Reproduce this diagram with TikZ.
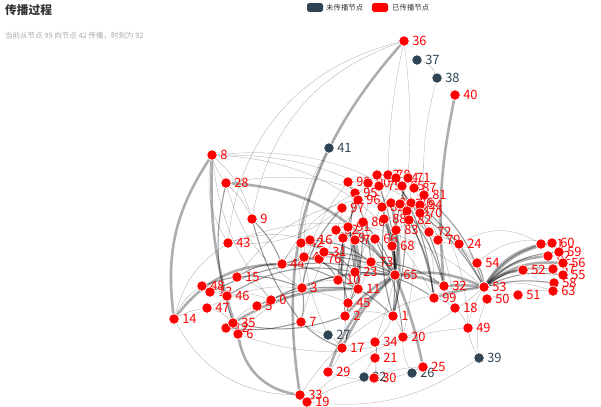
\documentclass[tikz,border=0pt]{standalone}
\usepackage{fontspec}
\setmainfont{Noto Sans CJK SC}
\usetikzlibrary{backgrounds}
\definecolor{hotred}{HTML}{FF0000}
\definecolor{coldgray}{HTML}{2F4554}
\definecolor{titlegray}{HTML}{333333}
\definecolor{subgray}{HTML}{AAAAAA}
\begin{document}
\begin{tikzpicture}[x=0.03cm, y=-0.03cm]
    \tikzset{
      dot/.style={circle, draw=white, line width=0.5pt, minimum size=0.31cm, inner sep=0pt},
      lbl/.style={font=\fontsize{11}{12}\selectfont, inner sep=0.5pt, label distance=0.6mm},
      hot/.style={dot, fill=hotred, label={[lbl, text=hotred]right:#1}},
      cold/.style={dot, fill=coldgray, label={[lbl, text=coldgray]right:#1}},
      edgethin/.style={draw=black, opacity=0.35, line width=0.25pt},
      edgemid/.style={draw=black, opacity=0.4, line width=0.9pt},
      edgethick/.style={draw=black, opacity=0.32, line width=2.2pt},
      legbox/.style={rounded corners=1.5pt, minimum width=0.48cm, minimum height=0.26cm, inner sep=0pt},
      legtxt/.style={anchor=west, font=\fontsize{6.3}{7}\selectfont, text=titlegray, inner sep=0pt},
    }
    \useasboundingbox (0,0) rectangle (601,406);

    % title and legend
    \node[anchor=west, inner sep=0pt, font=\bfseries\fontsize{10}{12}\selectfont, text=titlegray] (title) at (5,10) {传播过程};
    \node[anchor=west, inner sep=0pt, font=\fontsize{6.4}{8}\selectfont, text=subgray] (subtitle) at (5,36) {当前从节点 99 向节点 42 传播，时刻为 92};
    \node[legbox, fill=coldgray] (legcold) at (315,7.5) {};
    \node[legtxt] (legcoldtxt) at (326,7.5) {未传播节点};
    \node[legbox, fill=hotred] (leghot) at (380,7.5) {};
    \node[legtxt] (leghottxt) at (392,7.5) {已传播节点};

    % nodes not yet reached
    \node[cold=37] (n37) at (417,60) {};
    \node[cold=38] (n38) at (437,78) {};
    \node[cold=41] (n41) at (329,148) {};
    \node[cold=27] (n27) at (328,335) {};
    \node[cold=22] (n22) at (364,377) {};
    \node[cold=26] (n26) at (412,373) {};
    \node[cold=39] (n39) at (479,358) {};

    % reached nodes, left and middle
    \node[hot=36] (n36) at (404,41) {};
    \node[hot=40] (n40) at (455,95) {};
    \node[hot=8] (n8) at (212,155) {};
    \node[hot=28] (n28) at (226,183) {};
    \node[hot=9] (n9) at (252,219) {};
    \node[hot=43] (n43) at (228,243) {};
    \node[hot=44] (n44) at (282,264) {};
    \node[hot=4] (n4) at (304,257) {};
    \node[hot=76] (n76) at (319,259) {};
    \node[hot=31] (n31) at (324,252) {};
    \node[hot=42] (n42) at (301,243) {};
    \node[hot=16] (n16) at (310,240) {};
    \node[hot=15] (n15) at (237,277) {};
    \node[hot=48] (n48) at (202,286) {};
    \node[hot=13] (n13) at (210,292) {};
    \node[hot=46] (n46) at (227,296) {};
    \node[hot=3] (n3) at (302,288) {};
    \node[hot=0] (n0) at (271,300) {};
    \node[hot=5] (n5) at (257,306) {};
    \node[hot=47] (n47) at (207,308) {};
    \node[hot=14] (n14) at (174,319) {};
    \node[hot=12] (n12) at (226,328) {};
    \node[hot=6] (n6) at (238,334) {};
    \node[hot=35] (n35) at (233,323) {};
    \node[hot=7] (n7) at (301,322) {};
    \node[hot=73] (n73) at (371,262) {};
    \node[hot=23] (n23) at (355,272) {};
    \node[hot=65] (n65) at (395,275) {};
    \node[hot=10] (n10) at (338,280) {};
    \node[hot=11] (n11) at (358,289) {};
    \node[hot=45] (n45) at (348,303) {};
    \node[hot=2] (n2) at (345,316) {};
    \node[hot=1] (n1) at (393,316) {};
    \node[hot=17] (n17) at (342,348) {};
    \node[hot=34] (n34) at (375,342) {};
    \node[hot=20] (n20) at (403,337) {};
    \node[hot=21] (n21) at (375,358) {};
    \node[hot=29] (n29) at (328,372) {};
    \node[hot=30] (n30) at (374,378) {};
    \node[hot=25] (n25) at (423,367) {};
    \node[hot=33] (n33) at (300,395) {};
    \node[hot=19] (n19) at (307,402) {};

    % reached nodes, right
    \node[hot=49] (n49) at (468,328) {};
    \node[hot=18] (n18) at (455,308) {};
    \node[hot=99] (n99) at (434,298) {};
    \node[hot=32] (n32) at (444,286) {};
    \node[hot=54] (n54) at (477,263) {};
    \node[hot=53] (n53) at (484,287) {};
    \node[hot=50] (n50) at (487,299) {};
    \node[hot=51] (n51) at (518,295) {};
    \node[hot=52] (n52) at (523,270) {};
    \node[hot=72] (n72) at (429,232) {};
    \node[hot=79] (n79) at (438,240) {};
    \node[hot=24] (n24) at (459,244) {};
    \node[hot=61] (n61) at (541,244) {};
    \node[hot=60] (n60) at (552,243) {};
    \node[hot=62] (n62) at (548,256) {};
    \node[hot=59] (n59) at (559,252) {};
    \node[hot=57] (n57) at (553,269) {};
    \node[hot=56] (n56) at (563,263) {};
    \node[hot=55] (n55) at (563,275) {};
    \node[hot=58] (n58) at (554,283) {};
    \node[hot=63] (n63) at (553,291) {};

    % reached nodes, top cluster
    \node[hot=98] (n98) at (348,182) {};
    \node[hot=90] (n90) at (368,183) {};
    \node[hot=93] (n93) at (377,175) {};
    \node[hot=78] (n78) at (388,175) {};
    \node[hot=74] (n74) at (396,178) {};
    \node[hot=71] (n71) at (408,178) {};
    \node[hot=75] (n75) at (379,186) {};
    \node[hot=85] (n85) at (402,186) {};
    \node[hot=87] (n87) at (414,188) {};
    \node[hot=95] (n95) at (355,193) {};
    \node[hot=81] (n81) at (424,195) {};
    \node[hot=96] (n96) at (358,200) {};
    \node[hot=97] (n97) at (342,208) {};
    \node[hot=89] (n89) at (382,207) {};
    \node[hot=84] (n84) at (391,203) {};
    \node[hot=67] (n67) at (400,204) {};
    \node[hot=86] (n86) at (411,203) {};
    \node[hot=94] (n94) at (420,205) {};
    \node[hot=64] (n64) at (407,211) {};
    \node[hot=70] (n70) at (420,213) {};
    \node[hot=82] (n82) at (409,220) {};
    \node[hot=88] (n88) at (384,219) {};
    \node[hot=80] (n80) at (363,222) {};
    \node[hot=83] (n83) at (396,230) {};
    \node[hot=92] (n92) at (336,230) {};
    \node[hot=91] (n91) at (348,227) {};
    \node[hot=69] (n69) at (343,238) {};
    \node[hot=77] (n77) at (355,240) {};
    \node[hot=66] (n66) at (375,239) {};
    \node[hot=68] (n68) at (392,246) {};

    \begin{scope}[on background layer]
      \foreach \a/\b/\d in {37/38/25, 38/81/-8, 36/78/-5, 36/71/5, 36/9/-30, 36/43/-35, 41/3/-20, 41/27/-25,
          8/28/-10, 8/9/15, 8/72/20, 8/24/25, 8/43/-20, 8/0/-15, 28/9/10, 28/3/-20, 43/53/30, 43/16/15,
          43/14/-20, 14/48/15, 14/47/10, 48/13/10, 48/46/10, 13/46/10, 47/35/15, 12/6/10, 35/5/15, 5/0/10,
          0/3/10, 46/0/15, 15/0/15, 6/11/25, 47/45/25, 44/42/10, 42/16/10, 16/31/10, 31/76/10, 76/4/10,
          4/42/10, 3/10/10, 10/23/10, 23/73/10, 10/11/10, 11/45/10, 45/2/10, 2/1/15, 1/20/10, 1/34/10,
          34/21/10, 21/30/10, 17/34/10, 17/29/10, 33/19/10, 19/30/10, 30/25/10, 33/53/25, 19/49/20,
          27/7/10, 27/17/10, 22/30/10, 22/21/10, 26/25/10, 26/20/15, 39/49/10, 39/50/15, 99/18/10,
          18/49/10, 49/53/10, 50/51/10, 51/63/10, 54/24/10, 24/79/10, 79/72/10, 53/63/15, 52/55/10,
          60/61/10, 59/62/10, 72/54/15, 54/60/25, 24/61/30, 98/90/10, 90/93/10, 93/78/10, 78/74/10,
          74/71/10, 71/87/10, 87/81/10, 81/94/10, 94/70/10, 70/82/10, 82/83/10, 95/96/10, 96/97/10,
          97/92/10, 92/91/10, 91/69/10, 69/77/10, 77/66/10, 89/84/10, 84/67/10, 67/86/10, 86/64/10,
          64/88/10, 75/85/10, 85/87/10, 95/75/10, 98/95/10, 92/44/15, 97/43/20, 66/45/15, 90/80/10,
          93/88/10, 70/72/10, 86/99/15, 8/99/30, 28/79/25, 14/33/-30, 19/39/-20, 29/25/-20, 6/53/-30,
          98/3/-15, 95/44/-15, 96/15/-20, 71/20/10, 81/49/15, 87/18/10, 85/34/10, 74/17/-10, 78/7/-15}
        \draw[edgethin] (n\a) to[bend left=\d] (n\b);
      \foreach \a/\b/\d in {28/35/-15, 9/44/10, 9/7/-10, 13/65/20, 12/7/-10, 35/2/-15, 7/17/-10, 54/53/10,
          53/57/20, 53/55/15, 53/58/10, 53/59/20, 89/1/10, 67/99/10, 64/32/10, 80/2/10, 15/44/15,
          3/7/10, 0/65/15, 44/10/10, 5/11/15, 46/23/20, 48/3/20,
          92/65/15, 91/11/10, 80/65/10, 89/65/10, 75/65/10, 95/23/-10, 96/10/-10, 97/3/-15, 98/73/10,
          85/1/10, 71/65/-10, 74/99/10, 78/32/15, 81/53/15, 94/53/10, 70/53/10, 82/99/10, 88/1/-10,
          66/20/10, 77/2/-10, 69/45/-10, 31/65/15, 16/73/15, 42/23/15, 76/10/10, 4/11/15, 44/65/20,
          3/65/15, 10/1/10, 23/99/15, 73/32/15}
        \draw[edgemid] (n\a) to[bend left=\d] (n\b);
      \foreach \a/\b/\d in {36/33/-25, 40/32/-8, 8/14/-20, 8/6/-10, 28/65/25, 14/44/25, 6/33/-35,
          17/65/10, 29/65/15, 99/53/5, 32/53/5, 53/61/20, 53/60/20, 53/62/20, 53/56/20, 53/52/15,
          65/32/10, 65/53/15, 68/65/10, 88/65/10, 91/23/10, 69/10/10, 77/11/10, 84/65/10, 83/1/10,
          65/25/5, 35/11/15, 2/65/10}
        \draw[edgethick] (n\a) to[bend left=\d] (n\b);
    \end{scope}
  \end{tikzpicture}
\end{document}
